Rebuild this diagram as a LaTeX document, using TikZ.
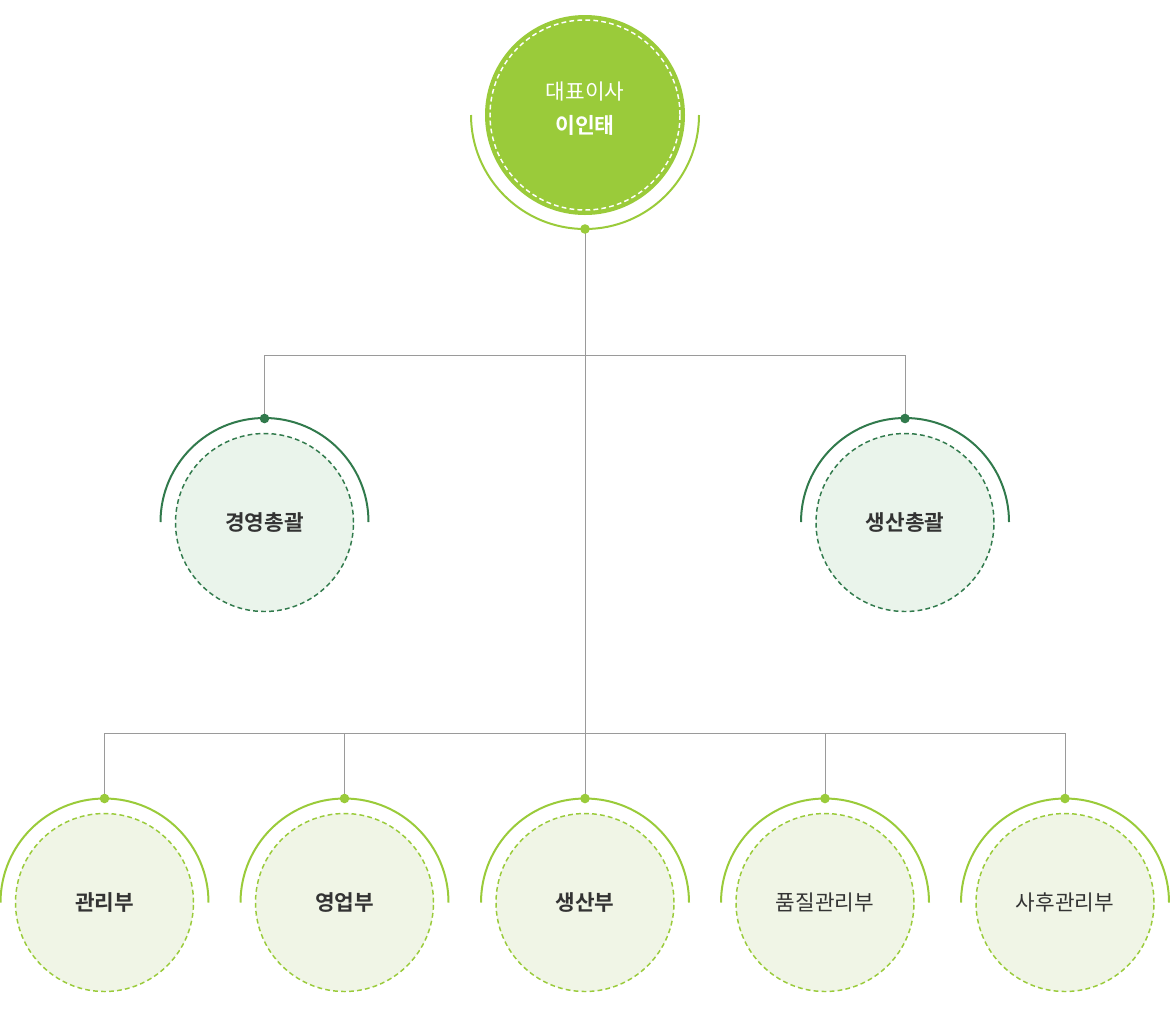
\documentclass[tikz,border=0pt]{standalone}
\usepackage{fontspec}
\usetikzlibrary{calc}
\newfontfamily\kr{Noto Sans CJK KR}[BoldFont={Noto Sans CJK KR Bold}]
\definecolor{lgreen}{HTML}{9ACB3A}
\definecolor{dgreen}{HTML}{317A4C}
\definecolor{mfill}{HTML}{EAF4EB}
\definecolor{bfill}{HTML}{F0F5E6}
\definecolor{txt}{HTML}{333333}
\definecolor{conn}{HTML}{9A9A9A}
\begin{document}
\begin{tikzpicture}[x=0.75pt,y=-0.75pt,
  connline/.style={draw=conn,line width=0.75pt},
  dotnode/.style={circle,inner sep=0pt,minimum size=7.2pt},
  arcline/.style={line width=1.5pt},
  midcirc/.style={circle,inner sep=0pt,minimum size=133.5pt,fill=mfill,draw=dgreen,dashed,line width=1.1pt,dash pattern=on 3.6pt off 2.4pt},
  botcirc/.style={circle,inner sep=0pt,minimum size=133.5pt,fill=bfill,draw=lgreen,dashed,line width=1.1pt,dash pattern=on 3.6pt off 2.4pt},
  lab/.style={font=\kr\fontsize{16}{19}\selectfont,text=txt},
  labb/.style={font=\kr\bfseries\fontsize{16}{19}\selectfont,text=txt}
]
\useasboundingbox (0,0) rectangle (1170,1008);

% junction coordinates
\coordinate (j1) at (585,355);
\coordinate (j2) at (585,733);

% top
\node[circle,fill=lgreen,inner sep=0pt,minimum size=150pt] (top) at (585,115) {};
\draw[white,line width=1.1pt,dash pattern=on 3.6pt off 2.4pt] (top.center) circle[radius=95];
\draw[lgreen,arcline] (471,115) arc[start angle=180,end angle=0,radius=114];
\node[font=\kr\fontsize{16}{19}\selectfont,text=white] (toprole) at (585,92) {대표이사};
\node[font=\kr\bfseries\fontsize{16.2}{19}\selectfont,text=white] (topname) at (585,125) {이인태};

% middle circles
\node[midcirc] (m1) at (264.5,522.5) {};
\node[midcirc] (m2) at (905,522.5) {};
\draw[dgreen,arcline] (160.5,522) arc[start angle=180,end angle=360,radius=104];
\draw[dgreen,arcline] (801,522) arc[start angle=180,end angle=360,radius=104];
\node[labb] (m1t) at (m1) {경영총괄};
\node[labb] (m2t) at (m2) {생산총괄};

% bottom circles
\node[botcirc] (b1) at (104.5,902.5) {};
\node[botcirc] (b2) at (344.5,902.5) {};
\node[botcirc] (b3) at (585,902.5) {};
\node[botcirc] (b4) at (825,902.5) {};
\node[botcirc] (b5) at (1065,902.5) {};
\foreach \c in {b1,b2,b3,b4,b5}{
  \draw[lgreen,arcline] ($(\c)+(-104,0)$) arc[start angle=180,end angle=360,radius=104];
}
\node[labb] (b1t) at (b1) {관리부};
\node[labb] (b2t) at (b2) {영업부};
\node[labb] (b3t) at (b3) {생산부};
\node[lab] (b4t) at (b4) {품질관리부};
\node[lab] (b5t) at (b5) {사후관리부};

% dot coordinates
\coordinate (topdotc) at (585,229);
\coordinate (m1dotc) at (264.5,418.5);
\coordinate (m2dotc) at (905,418.5);
\coordinate (b1dotc) at (104.5,798.5);
\coordinate (b2dotc) at (344.5,798.5);
\coordinate (b3dotc) at (585,798.5);
\coordinate (b4dotc) at (825,798.5);
\coordinate (b5dotc) at (1065,798.5);

% connectors
\draw[connline] (topdotc) -- (b3dotc);
\draw[connline] (m1dotc) |- (j1) -| (m2dotc);
\draw[connline] (b1dotc) |- (j2) -| (b5dotc);
\draw[connline] (b2dotc) -- (b2dotc |- j2);
\draw[connline] (b4dotc) -- (b4dotc |- j2);

% dots
\node[dotnode,fill=lgreen] (topdot) at (topdotc) {};
\node[dotnode,fill=dgreen] (m1dot) at (m1dotc) {};
\node[dotnode,fill=dgreen] (m2dot) at (m2dotc) {};
\foreach \c in {b1,b2,b3,b4,b5}{
  \node[dotnode,fill=lgreen] (\c dot) at (\c dotc) {};
}
\end{tikzpicture}
\end{document}
